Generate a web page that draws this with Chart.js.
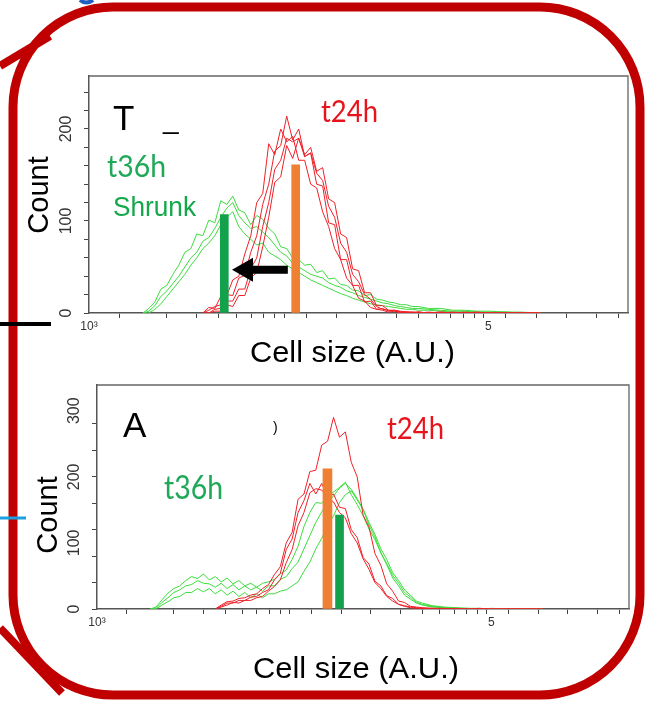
<!DOCTYPE html>
<html>
<head>
<meta charset="utf-8">
<script src="https://cdn.jsdelivr.net/npm/chart.js@4"></script>
<style>
html,body{margin:0;padding:0;background:#fff;}
#page{position:relative;width:649px;height:707px;overflow:hidden;background:#fff;}
canvas{position:absolute;left:0;}
#topChart{top:60px;}
#botChart{top:370px;}
#overlay{position:absolute;left:0;top:0;pointer-events:none;}
</style>
</head>
<body>
<div id="page">
<canvas id="topChart" width="649" height="310"></canvas>
<canvas id="botChart" width="649" height="300"></canvas>
<svg id="overlay" width="649" height="707" xmlns="http://www.w3.org/2000/svg">
  <!-- callout frame -->
  <path d="M0 66 L50 36" stroke="#c00000" stroke-width="8" fill="none"/>
  <path d="M0 628 L62 693" stroke="#c00000" stroke-width="8" fill="none"/>
  <rect x="13" y="7" width="627" height="688" rx="100" ry="100" fill="none" stroke="#c00000" stroke-width="9"/>
  <path d="M0 324 L51 324" stroke="#000" stroke-width="4"/>
  <path d="M0 518 L26 518" stroke="#1aa0e0" stroke-width="3"/>
  <path d="M80 0 Q86 5 93 0" stroke="#1f5fbf" stroke-width="4" fill="none"/>

  <g font-family="'Liberation Sans', Arial, sans-serif">
    <text x="113" y="130" font-size="35" fill="#000">T</text>
    <text x="163" y="128" font-size="28" fill="#000">_</text>
    <text x="123" y="437" font-size="35" fill="#000">A</text>
    <text x="273" y="432" font-size="14" fill="#000">)</text>
    <text x="113" y="216" font-size="27" fill="#14a84b" textLength="83" lengthAdjust="spacingAndGlyphs">Shrunk</text>
    <text x="250" y="362" font-size="29" fill="#000" textLength="205" lengthAdjust="spacingAndGlyphs">Cell size (A.U.)</text>
    <text x="253" y="678" font-size="29" fill="#000" textLength="206" lengthAdjust="spacingAndGlyphs">Cell size (A.U.)</text>
    <text transform="translate(48,195) rotate(-90)" font-size="29" fill="#000" text-anchor="middle">Count</text>
    <text transform="translate(57,515) rotate(-90)" font-size="29" fill="#000" text-anchor="middle">Count</text>
  </g>
  <g font-family="Lato, 'Open Sans', sans-serif">
    <text x="321" y="122" font-size="31" fill="#e8141c" textLength="57" lengthAdjust="spacingAndGlyphs">t24h</text>
    <text x="107" y="177" font-size="31" fill="#1ea858" textLength="59" lengthAdjust="spacingAndGlyphs">t36h</text>
    <text x="387" y="439" font-size="31" fill="#e8141c" textLength="57" lengthAdjust="spacingAndGlyphs">t24h</text>
    <text x="164" y="499" font-size="33" fill="#1ea858" textLength="59" lengthAdjust="spacingAndGlyphs">t36h</text>
  </g>
</svg>
</div>

<script>
// histogram bins (cell size, A.U.), shared by both panels
const sizes = [1862,1995,2138,2291,2455,2630,2818,3020,3236,3467,
3715,3981,4266,4571,4898,5248,5623,6026,6457,6918,
7413,7943,8511,9120,9772,10471,11220,12023,12882,13804,
14791,15849,16982,18197,19498,20893,22387,23988,25704,27542,
29512,31623,33884,36308,38905,41687,44668,50119,57544,66069,
75858,87096,100000,120226,144544,181970];

// top panel (T): t36h = green, t24h = red
const topGreen1 = [0,5,12,26,30,42,52,66,70,86, 84,101,98,122,118,127,112,109,96,106, 102,92,86,72,70,60,58,52,53,44, 46,37,38,31,30,25,24,19,20,15, 14,12,11,9,9,7,7,5,5,3, 3,2,2,1,1,0];
const topGreen2 = [0,2,8,18,24,32,40,50,60,66, 78,82,92,104,114,120,106,98,92,94, 88,82,74,66,62,54,50,46,42,40, 38,33,30,28,24,22,19,17,15,13, 11,10,8,7,6,5,5,4,3,2, 2,1,1,1,0,0];
const topGreen3 = [0,0,4,10,18,26,34,42,52,60, 70,76,84,96,104,110,94,86,80,74, 76,66,62,58,52,48,44,40,36,33, 30,27,24,21,19,16,14,12,10,9, 8,7,6,5,4,4,3,3,2,1, 1,1,0,1,0,0];
const topRed1 = [null,null,null,null,null,null,null,null,null,null, 0,6,5,18,19,36,40,64,84,120, 130,184,172,200,186,192,166,166,140,136, 110,94,70,58,38,30,16,13,6,4, 3,1,2,0,1,0,1,0,1,0, 0,1,0,0,0,0];
const topRed2 = [null,null,null,null,null,null,null,null,null,null, 0,3,7,9,20,19,38,41,66,84, 118,140,176,182,214,188,200,170,174,140, 138,98,96,58,58,30,30,12,13,4, 5,2,3,1,1,0,1,0,0,1, 0,0,0,0,0,0];
const topRed3 = [null,null,null,null,null,null,null,null,null,null, 0,0,4,5,13,13,26,26,48,60, 94,120,156,166,190,186,190,170,174,152, 144,116,104,76,66,42,34,20,15,7, 4,3,2,1,1,1,0,1,0,0, 0,0,0,0,0,0];
const topRed4 = [null,null,null,null,null,null,null,null,null,null, 0,0,2,2,9,7,19,19,38,44, 72,104,142,148,182,168,190,172,180,154, 158,124,120,86,82,48,46,22,22,8, 8,3,3,2,1,1,1,0,1,0, 1,0,0,0,0,0];
const topMedianX = [10840, 4760];   // t24h, t36h medians
const topMedianY = [161, 107];
const topArrowX = [9900, 5200];
const topArrowY = 47;
const topYLabels = [0, 100, 200];

// bottom panel (A)
const botGreen1 = [0,3,14,24,31,35,43,49,46,53, 44,49,41,47,38,43,35,39,33,39, 41,45,53,59,75,95,125,146,161,160, 171,177,184,192,173,158,141,121,105,85, 69,51,39,25,18,10,7,4,2,1, 1,0,0,0,0,0];
const botGreen2 = [0,1,10,17,25,29,35,37,43,39, 38,33,39,31,37,29,35,29,33,27, 35,35,45,49,61,71,91,111,131,147, 161,171,183,190,181,167,151,131,113,91, 75,55,43,29,21,12,9,5,3,2, 1,1,0,0,0,0];
const botGreen3 = [0,0,6,11,17,19,25,25,31,26, 31,23,29,21,27,19,25,17,23,17, 23,23,27,29,35,41,57,71,91,107, 127,141,161,173,179,165,151,127,109,85, 67,47,35,21,15,9,6,3,2,1, 0,0,1,0,0,0];
const botRed1 = [null,null,null,null,null,null,null,null,null,null, null,0,6,11,12,16,17,21,23,31, 37,52,64,100,116,166,174,208,210,248, 254,290,260,268,222,200,142,124,84,66, 38,27,12,10,4,3,2,1,0,1, 0,1,0,0,0,0];
const botRed2 = [null,null,null,null,null,null,null,null,null,null, null,0,4,9,9,13,13,18,19,25, 29,44,54,90,106,146,164,190,174,190, 170,174,154,152,120,108,78,68,42,35, 20,16,7,5,3,2,1,1,1,0, 0,0,0,0,0,0];
const botRed3 = [null,null,null,null,null,null,null,null,null,null, null,0,3,6,10,9,13,13,17,19, 27,34,44,70,90,126,146,176,182,180, 168,162,146,138,114,100,76,60,40,31, 19,12,7,4,2,1,1,0,0,0, 0,0,0,0,0,0];
const botMedianX = [14760, 17000];
const botMedianY = [212, 142];
const botYLabels = [0, 100, 200, 300];

const RED = "#ee2028";
const GREEN = "#3cdc3c";
const ORANGE = "#ef7f33";
const DKGREEN = "#14a14c";

function trace(ys, color){
  return {
    type:"line",
    data:sizes.map((s,i)=>({x:s,y:ys[i]})).filter(p=>p.y!==null),
    borderColor:color,
    borderWidth:1,
    pointRadius:0,
    tension:0,
    fill:false,
    order:2
  };
}

function medianBar(x, y, color, w){
  return {
    type:"bar",
    data:[{x:x,y:y}],
    backgroundColor:color,
    grouped:false,
    barThickness:w,
    maxBarThickness:w,
    order:0
  };
}

const boxPlugin = {
  id:"box",
  afterDraw(chart){
    const {ctx, chartArea:a} = chart;
    ctx.save();
    ctx.strokeStyle = "#666";
    ctx.lineWidth = 1.3;
    ctx.beginPath();
    ctx.moveTo(a.left, a.top);
    ctx.lineTo(a.right, a.top);
    ctx.lineTo(a.right, a.bottom);
    ctx.stroke();
    ctx.restore();
  }
};

const rotatedY = {
  id:"rotatedY",
  afterDraw(chart, args, opts){
    const {ctx} = chart;
    const y = chart.scales.y;
    ctx.save();
    ctx.font = "16px 'Liberation Sans', Arial, sans-serif";
    ctx.fillStyle = "#333";
    ctx.textAlign = "center";
    ctx.textBaseline = "middle";
    opts.values.forEach(v=>{
      ctx.save();
      ctx.translate(y.right - 22, y.getPixelForValue(v));
      ctx.rotate(-Math.PI/2);
      ctx.fillText(String(v), 0, 0);
      ctx.restore();
    });
    ctx.restore();
  }
};

const arrowPlugin = {
  id:"arrow",
  afterDatasetsDraw(chart, args, opts){
    if(!opts.from) return;
    const {ctx, scales:{x, y}} = chart;
    const x0 = x.getPixelForValue(opts.from);
    const x1 = x.getPixelForValue(opts.to);
    const py = y.getPixelForValue(opts.y);
    ctx.save();
    ctx.fillStyle = "#000";
    ctx.fillRect(x1 + 18, py - 4, x0 - x1 - 18, 8);
    ctx.beginPath();
    ctx.moveTo(x1, py);
    ctx.lineTo(x1 + 21, py - 12);
    ctx.lineTo(x1 + 21, py + 12);
    ctx.closePath();
    ctx.fill();
    ctx.restore();
  }
};

function makeChart(id, datasets, yMax, yWidth, xHeight, padding, yLabels, arrow){
  return new Chart(document.getElementById(id), {
    type:"line",
    data:{datasets},
    plugins:[boxPlugin, rotatedY, arrowPlugin],
    options:{
      responsive:false,
      animation:false,
      events:[],
      layout:{padding},
      plugins:{
        legend:{display:false},
        tooltip:{enabled:false},
        rotatedY:{values:yLabels},
        arrow:arrow
      },
      scales:{
        x:{
          type:"logarithmic",
          min:1000,
          max:500000,
          border:{display:true, color:"#555", width:1.5},
          grid:{drawOnChartArea:false, drawTicks:true, tickLength:5, tickColor:"#444"},
          ticks:{
            autoSkip:false, maxRotation:0, padding:1,
            font:{size:12, family:"'Liberation Sans', Arial"}, color:"#333",
            callback:v=> v===1000 ? "10³" : (v===100000 ? "5" : "")
          },
          afterFit(s){ s.height = xHeight; }
        },
        y:{
          min:0,
          max:yMax,
          border:{display:true, color:"#555", width:1.5},
          grid:{drawOnChartArea:false, drawTicks:true, tickLength:5,
            tickColor:c=> (c.tick && c.tick.value % 20 === 0) ? "#444" : "rgba(0,0,0,0)"},
          ticks:{stepSize:20, callback:()=>""},
          afterFit(s){ s.width = yWidth; }
        }
      }
    }
  });
}

Chart.defaults.font.family = "'Liberation Sans', Arial, sans-serif";

makeChart("topChart", [
  medianBar(topMedianX[0], topMedianY[0], ORANGE, 8),
  medianBar(topMedianX[1], topMedianY[1], DKGREEN, 8),
  trace(topRed1, RED), trace(topRed2, RED), trace(topRed3, RED), trace(topRed4, RED),
  trace(topGreen1, GREEN), trace(topGreen2, GREEN), trace(topGreen3, GREEN)
], 257.6, 89, 57, {left:0, right:21, top:16, bottom:0}, topYLabels,
  {from:topArrowX[0], to:topArrowX[1], y:topArrowY});

makeChart("botChart", [
  medianBar(botMedianX[0], botMedianY[0], ORANGE, 9),
  medianBar(botMedianX[1], botMedianY[1], DKGREEN, 8),
  trace(botRed1, RED), trace(botRed2, RED), trace(botRed3, RED),
  trace(botGreen1, GREEN), trace(botGreen2, GREEN), trace(botGreen3, GREEN)
], 339, 97, 61, {left:0, right:20, top:15, bottom:0}, botYLabels, {});
</script>
</body>
</html>
